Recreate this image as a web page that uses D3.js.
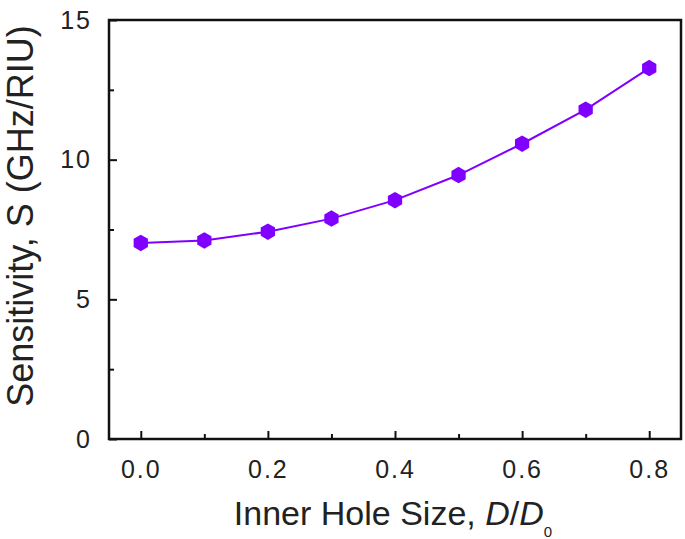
<!DOCTYPE html>
<html>
<head>
<meta charset="utf-8">
<script src="https://cdn.jsdelivr.net/npm/d3@7"></script>
<style>
  body { margin: 0; background: #fff; }
  text { font-family: "Liberation Sans", Arial, sans-serif; fill: #222; }
</style>
</head>
<body>
<script>
// data
var holeSize = [0.0, 0.1, 0.2, 0.3, 0.4, 0.5, 0.6, 0.7, 0.8];
var sensitivity = [7.02, 7.11, 7.42, 7.89, 8.55, 9.45, 10.57, 11.79, 13.28];
var xTicks = [0.0, 0.2, 0.4, 0.6, 0.8];
var xMinor = [0.1, 0.3, 0.5, 0.7];
var yTicks = [0, 5, 10, 15];
var yMinor = [2.5, 7.5, 12.5];

var w = 685, h = 539;
var pL = 109, pR = 681, pT = 20, pB = 439;
var col = "#7f00ff";

var svg = d3.select("body").append("svg")
  .attr("width", w).attr("height", h);

var x = d3.scaleLinear().domain([-0.05, 0.85]).range([pL, pR]);
var y = d3.scaleLinear().domain([0, 15]).range([pB, pT]);

// frame
svg.append("rect")
  .attr("x", pL).attr("y", pT)
  .attr("width", pR - pL).attr("height", pB - pT)
  .attr("fill", "none").attr("stroke", "#111").attr("stroke-width", 2.5);

// x ticks (inward)
svg.append("g").attr("transform", "translate(0," + pB + ")")
  .call(d3.axisBottom(x).tickValues(xTicks).tickSize(-8).tickPadding(21).tickFormat(d3.format(".1f")));
svg.append("g").attr("transform", "translate(0," + pB + ")")
  .call(d3.axisBottom(x).tickValues(xMinor).tickSize(-5).tickFormat(""));

// y ticks (inward)
svg.append("g").attr("transform", "translate(" + pL + ",0)")
  .call(d3.axisLeft(y).tickValues(yTicks).tickSize(-8).tickPadding(17).tickFormat(d3.format("d")));
svg.append("g").attr("transform", "translate(" + pL + ",0)")
  .call(d3.axisLeft(y).tickValues(yMinor).tickSize(-5).tickFormat(""));

svg.selectAll(".domain").remove();
svg.selectAll(".tick line").attr("stroke", "#111").attr("stroke-width", 2);
svg.selectAll(".tick text")
  .style("font-family", "Liberation Sans, Arial, sans-serif")
  .style("font-size", "25px")
  .style("letter-spacing", "2px")
  .attr("fill", "#222");

// line
var line = d3.line()
  .x(function(d, i) { return x(holeSize[i]); })
  .y(function(d) { return y(d); });

svg.append("path")
  .datum(sensitivity)
  .attr("d", line)
  .attr("fill", "none")
  .attr("stroke", col)
  .attr("stroke-width", 2);

// hexagon markers
var hex = d3.symbol().type({
  draw: function(ctx, size) {
    var r = Math.sqrt(size);
    for (var k = 0; k < 6; k++) {
      var a = Math.PI / 3 * k + Math.PI / 6;
      var px = r * Math.cos(a), py = r * Math.sin(a);
      if (k === 0) ctx.moveTo(px, py); else ctx.lineTo(px, py);
    }
    ctx.closePath();
  }
}).size(68);

svg.selectAll(".pt")
  .data(sensitivity)
  .enter()
  .append("path")
  .attr("class", "pt")
  .attr("d", hex)
  .attr("transform", function(d, i) { return "translate(" + x(holeSize[i]) + "," + y(d) + ")"; })
  .attr("fill", col);

// axis titles
var xt = svg.append("text")
  .attr("x", 393)
  .attr("y", 525)
  .attr("text-anchor", "middle")
  .style("font-size", "34px");
xt.append("tspan").text("Inner Hole Size, ");
xt.append("tspan").attr("font-style", "italic").text("D");
xt.append("tspan").text("/");
xt.append("tspan").attr("font-style", "italic").text("D");
xt.append("tspan").attr("dy", 12).style("font-size", "15px").text("0");

svg.append("text")
  .attr("transform", "translate(33,216) rotate(-90)")
  .attr("text-anchor", "middle")
  .style("font-size", "36px")
  .text("Sensitivity, S (GHz/RIU)");
</script>
</body>
</html>
